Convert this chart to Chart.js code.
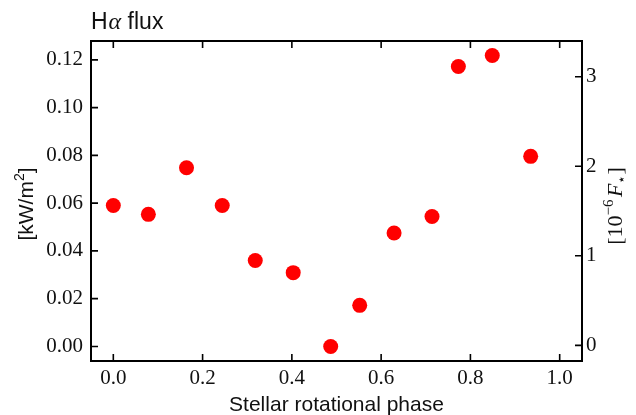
<!DOCTYPE html>
<html><head><meta charset="utf-8">
<script src="https://cdn.jsdelivr.net/npm/chart.js@4/dist/chart.umd.min.js"></script>
<style>html,body{margin:0;padding:0;background:#fff;}#wrap{width:636px;height:415px;}</style>
</head><body><div id="wrap"><canvas id="c" width="636" height="415"></canvas></div>
<script>
// Data
const phase  = [0.000, 0.0785, 0.164, 0.244, 0.318, 0.403, 0.487, 0.552, 0.629, 0.714, 0.773, 0.849, 0.935];
const fluxKW = [0.0590, 0.0553, 0.0748, 0.0590, 0.0360, 0.0309, 0.0000, 0.0172, 0.0475, 0.0544, 0.1172, 0.1218, 0.0796];
const xTicks  = [0.0, 0.2, 0.4, 0.6, 0.8, 1.0];
const yTicks  = [0.00, 0.02, 0.04, 0.06, 0.08, 0.10, 0.12];
const y2Ticks = [0, 1, 2, 3];
const xLimits  = [-0.05, 1.05];
const yLimits  = [-0.0061, 0.1279];
const y2Limits = [-0.175, 3.399];
const titleMain = 'H', titleGreek = 'α', titleRest = ' flux';
const xLabel = 'Stellar rotational phase';

const SERIF = '"Liberation Serif", "DejaVu Serif", serif';
const SANS = '"Liberation Sans", Arial, sans-serif';

function setTicks(arr){ return s => { s.ticks = arr.map(v => ({value: v})); }; }

const decor = {
  id: 'decor',
  afterDatasetsDraw(chart){
    const {ctx, chartArea: a, scales} = chart;
    ctx.save();
    ctx.strokeStyle = '#000';
    ctx.lineWidth = 1.6;
    ctx.beginPath();
    const TL = 7;
    scales.x.ticks.forEach(t => {
      const p = scales.x.getPixelForValue(t.value);
      ctx.moveTo(p, a.bottom); ctx.lineTo(p, a.bottom - TL);
      ctx.moveTo(p, a.top); ctx.lineTo(p, a.top + TL);
    });
    scales.y.ticks.forEach(t => {
      const p = scales.y.getPixelForValue(t.value);
      ctx.moveTo(a.left, p); ctx.lineTo(a.left + TL, p);
    });
    scales.y2.ticks.forEach(t => {
      const p = scales.y2.getPixelForValue(t.value);
      ctx.moveTo(a.right, p); ctx.lineTo(a.right - TL, p);
    });
    ctx.stroke();
    ctx.lineWidth = 2;
    ctx.strokeRect(a.left, a.top, a.right - a.left, a.bottom - a.top);

    ctx.fillStyle = '#111';
    ctx.textBaseline = 'alphabetic';
    // Title
    ctx.textAlign = 'left';
    let x = a.left;
    ctx.font = '23px ' + SANS;
    ctx.fillText(titleMain, x, 29); x += ctx.measureText(titleMain).width + 1;
    ctx.font = 'italic 24px ' + SERIF;
    ctx.fillText(titleGreek, x, 29); x += ctx.measureText(titleGreek).width;
    ctx.font = '23px ' + SANS;
    ctx.fillText(titleRest, x, 29);

    // X label
    ctx.textAlign = 'center';
    ctx.font = '21px ' + SANS;
    ctx.fillText(xLabel, (a.left + a.right) / 2, 411);

    // Left y label: [kW/m^2]
    drawRich(ctx, [
      {t: '[kW/m', f: '21px ' + SANS, dy: 0},
      {t: '2', f: '14px ' + SANS, dy: -9},
      {t: ']', f: '21px ' + SANS, dy: 0}
    ], 33, 204);

    // Right y label: [10^-6 F_*]
    drawRich(ctx, [
      {t: '[10', f: '22px ' + SERIF, dy: 0},
      {t: '−6', f: '15px ' + SERIF, dy: -9},
      {t: ' ', f: '10px ' + SERIF, dy: 0},
      {t: 'F', f: 'italic 22px ' + SERIF, dy: 0},
      {t: '⋆', f: '14px ' + SERIF, dy: 4},
      {t: ']', f: '22px ' + SERIF, dy: 0}
    ], 622, 206);
    ctx.restore();
  }
};

function drawRich(ctx, parts, bx, cy){
  let total = 0;
  parts.forEach(p => { ctx.font = p.f; p.w = ctx.measureText(p.t).width; total += p.w; });
  ctx.save();
  ctx.translate(bx, cy);
  ctx.rotate(-Math.PI / 2);
  ctx.textAlign = 'left';
  let x = -total / 2;
  parts.forEach(p => { ctx.font = p.f; ctx.fillText(p.t, x, p.dy); x += p.w; });
  ctx.restore();
}

new Chart(document.getElementById('c'), {
  type: 'scatter',
  data: {
    datasets: [{
      data: phase.map((p, i) => ({x: p, y: fluxKW[i]})),
      backgroundColor: '#ff0000',
      borderWidth: 0,
      pointRadius: 7.5,
      pointHoverRadius: 7.5,
      yAxisID: 'y'
    }]
  },
  options: {
    responsive: false,
    animation: false,
    devicePixelRatio: 1,
    layout: {padding: {top: 41, left: 0, right: 0, bottom: 0}},
    plugins: {legend: {display: false}, tooltip: {enabled: false}, title: {display: false}},
    scales: {
      x: {
        type: 'linear', position: 'bottom',
        min: xLimits[0], max: xLimits[1],
        afterBuildTicks: setTicks(xTicks),
        afterFit: s => { s.height = 54; },
        grid: {display: false, drawTicks: false},
        border: {display: false},
        ticks: {padding: 5, maxRotation: 0, autoSkip: false, color: '#111',
          font: {family: SERIF, size: 21},
          callback: v => v.toFixed(1)}
      },
      y: {
        type: 'linear', position: 'left',
        min: yLimits[0], max: yLimits[1],
        afterBuildTicks: setTicks(yTicks),
        afterFit: s => { s.width = 91; },
        grid: {display: false, drawTicks: false},
        border: {display: false},
        ticks: {padding: 8, autoSkip: false, color: '#111',
          font: {family: SERIF, size: 21},
          callback: v => v.toFixed(2)}
      },
      y2: {
        type: 'linear', position: 'right',
        min: y2Limits[0], max: y2Limits[1],
        afterBuildTicks: setTicks(y2Ticks),
        afterFit: s => { s.width = 54; },
        grid: {display: false, drawTicks: false},
        border: {display: false},
        ticks: {padding: 4, autoSkip: false, color: '#111',
          font: {family: SERIF, size: 21},
          callback: v => String(v)}
      }
    }
  },
  plugins: [decor]
});
</script>
</body></html>
